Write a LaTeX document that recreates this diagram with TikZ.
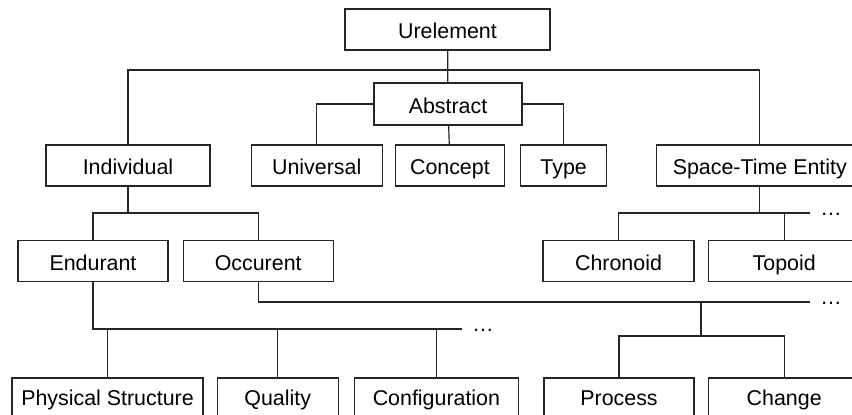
\documentclass[tikz,border=0pt]{standalone}
\usepackage{fontspec}
\setmainfont{Liberation Sans}
\usepackage{tikz}
\usetikzlibrary{positioning}
\tikzset{
        tax box/.style={
		draw=black!85,
		line width=0.6pt,
		minimum width={#1pt}, % half the pixel width
		minimum height={20.5pt},
		text height=9pt, text depth=0pt, % same baseline in every box
		inner sep=0pt,
	  },
  		more dots/.style={
    	anchor=west,
    	text height=2pt, text depth=0pt,
    	inner xsep=5pt, inner ysep=0pt,
      },
        link/.style={draw=black!85, line width=0.6pt},
  	}

\begin{document}
\begin{tikzpicture}[x=0.5pt, y=-0.5pt, font=\fontsize{10.7}{12.8}\selectfont]
    \useasboundingbox (0,0) rectangle (852,414);
    \clip (0,0) rectangle (852,414);
    \node [tax box=102.5] (urelement) at (447.5,29.5) {Urelement};
    \node [tax box=74, minimum height=21pt] (abstract) at (448,104) {Abstract};
    \node [tax box=82] (individual) at (128,165.5) {Individual};
    \node [tax box=65.5, right=20pt of individual] (universal) {Universal};
    \node [tax box=54.5, right=6pt of universal] (concept) {Concept};
    \node [tax box=43, right=7.5pt of concept] (type) {Type};
    \node [tax box=103, right=24.5pt of type] (spacetime) {Space-Time Entity};
    \node [tax box=75] (endurant) at (93,261) {Endurant};
    \node [tax box=75, right=7pt of endurant] (occurent) {Occurent};
    \node [tax box=75.5] (chronoid) at (618.5,261) {Chronoid};
    \node [tax box=76, right=6.5pt of chronoid] (topoid) {Topoid};
    \node [tax box=95.5, minimum height=18.7pt] (physical) at (107.5,396.7) {Physical Structure};
    \node [tax box=60.5, minimum height=18.7pt, right=6.5pt of physical] (quality) {Quality};
    \node [tax box=82, minimum height=18.7pt, right=7.5pt of quality] (configuration) {Configuration};
    \node [tax box=75, minimum height=18.7pt] (process) at (619,396.7) {Process};
    \node [tax box=76, minimum height=18.7pt, right=6.5pt of process] (change) {Change};
    \node [more dots] (dotsSte) at (810,213) {…};
    \node [more dots] (dotsOcc) at (810,302) {…};
    \node [more dots] (dotsEnd) at (462,329) {…};
    % top levels
    \coordinate (topBus) at (448,70);
    \draw [link] (urelement) -- (abstract);
    \draw [link] (individual.north) |- (topBus) -| (spacetime.north);
    \draw [link] (universal.north) |- (abstract.west);
    \draw [link] (type.north) |- (abstract.east);
    \draw [link] (abstract) -- (concept);
    % individual
    \coordinate (indBus) at (128,213);
    \draw [link] (individual) -- (indBus);
    \draw [link] (endurant.north) |- (indBus) -| (occurent.north);
    % space-time entity
    \draw [link] (spacetime) -- (spacetime.south |- dotsSte.west);
    \draw [link] (chronoid.north) |- (dotsSte.west);
    \draw [link] (topoid.north) -- (topoid.north |- dotsSte.west);
    % occurent
    \coordinate (occBus) at (701,336);
    \draw [link] (occurent.south) |- (dotsOcc.west);
    \draw [link] (occBus) -- (occBus |- dotsOcc.west);
    \draw [link] (process.north) |- (occBus) -| (change.north);
    % endurant
    \draw [link] (endurant.south) |- (dotsEnd.west);
    \draw [link] (physical.north) -- (physical.north |- dotsEnd.west);
    \draw [link] (quality.north) -- (quality.north |- dotsEnd.west);
    \draw [link] (configuration.north) -- (configuration.north |- dotsEnd.west);
\end{tikzpicture}
\end{document}
